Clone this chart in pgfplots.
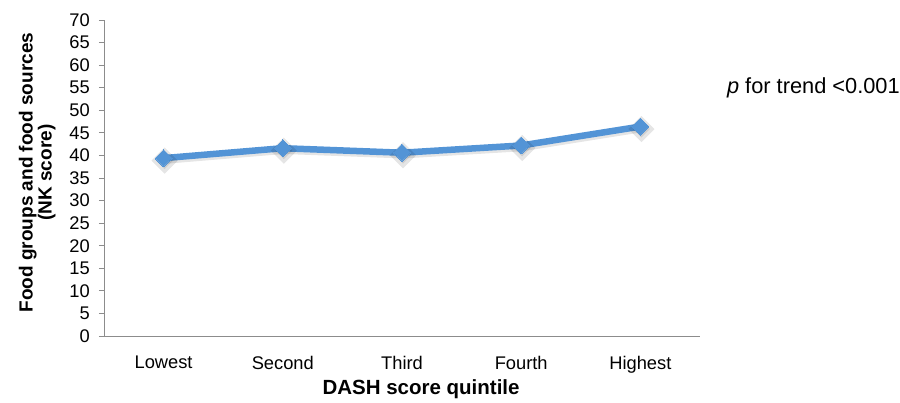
\documentclass[border=0pt]{standalone}
\usepackage{fontspec}
\setmainfont{Liberation Sans}
\usepackage{pgfplots}
\pgfplotsset{compat=1.18}
\definecolor{lineblue}{RGB}{83,148,214}
\definecolor{axgray}{RGB}{140,140,140}
\begin{document}
\fontsize{18bp}{21bp}\selectfont
\begin{tikzpicture}
\begin{axis}[
  scale only axis,
  width=596bp, height=316bp,
  xmin=-0.5, xmax=4.5,
  ymin=0, ymax=70,
  ytick distance=5,
  xtick={0,1,2,3,4},
  xticklabels={Lowest,Second,Third,Fourth,Highest},
  axis x line=bottom, axis y line=left,
  axis line style={-, axgray, line width=0.9bp},
  xtick style={draw=none},
  ytick style={axgray, line width=0.9bp},
  tick align=outside,
  major tick length=5bp,
  /pgf/number format/assume math mode=true,
  ticklabel style={font=\fontsize{18.3bp}{21bp}\selectfont},
  yticklabel style={xshift=-3bp},
  xticklabel style={yshift=-9bp},
  clip=false,
]
\addplot[black, opacity=0.10, line width=6.5bp, mark=square*, mark size=6bp,
  mark options={rotate=45}, xshift=1bp, yshift=-2.5bp]
  coordinates {(0,39.4) (1,41.6) (2,40.6) (3,42.2) (4,46.4)};
\addplot[lineblue, line width=6.5bp, mark=square*, mark size=6bp,
  mark options={rotate=45, fill=lineblue, draw=lineblue, line width=0bp}]
  coordinates {(0,39.4) (1,41.6) (2,40.6) (3,42.2) (4,46.4)};
\node[rotate=90, align=center, font=\fontsize{19bp}{19bp}\selectfont\bfseries]
  at (axis description cs:-0.112,0.517) {Food groups and food sources\\(NK score)};
\node[font=\fontsize{20.5bp}{23bp}\selectfont\bfseries]
  at (axis description cs:0.532,-0.168) {DASH score quintile};
\node[anchor=west, font=\fontsize{21.8bp}{24bp}\selectfont]
  at (axis description cs:1.035,0.785) {\textit{p} for trend <0.001};
\end{axis}
\pgfresetboundingbox
\path[use as bounding box] (-104bp,-67bp) rectangle (796bp,336bp);
\end{tikzpicture}
\end{document}
